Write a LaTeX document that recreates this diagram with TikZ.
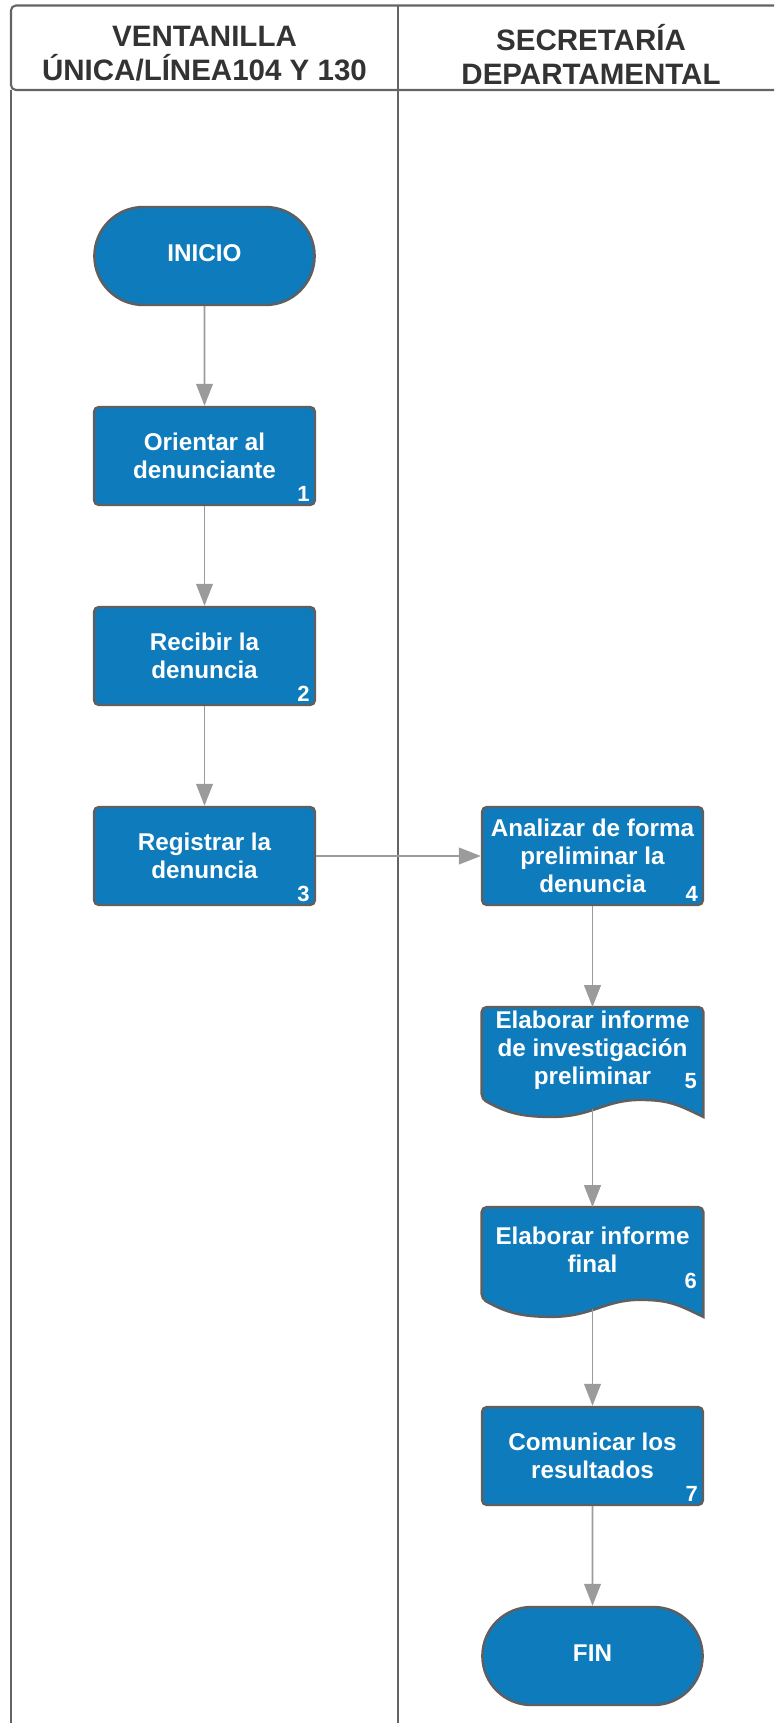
\documentclass[tikz,border=0pt]{standalone}
\usepackage{fontspec}
\setmainfont{Liberation Sans}
\usetikzlibrary{arrows.meta,shapes.misc,calc,backgrounds}
\definecolor{boxblue}{RGB}{14,123,189}
\definecolor{boxline}{RGB}{95,95,95}
\definecolor{laneline}{RGB}{100,100,100}
\definecolor{flowgray}{RGB}{155,155,155}
\definecolor{headtext}{RGB}{51,51,51}
\begin{document}
\begin{tikzpicture}[x=0.02cm,y=-0.02cm,
box font/.style={font=\fontsize{13.8}{15.8}\selectfont\bfseries},
step node/.style={rectangle,rounded corners=2.8pt,draw=boxline,line width=1.4pt,fill=boxblue,text=white,box font,align=center,minimum width=4.42cm,minimum height=1.96cm,inner sep=2pt},
term node/.style={rounded rectangle,draw=boxline,line width=1.4pt,fill=boxblue,text=white,box font,text depth=3.5pt,minimum width=4.64cm,minimum height=1.96cm},
doc node/.style={rectangle,text=white,box font,align=center,minimum width=4.42cm,minimum height=1.7cm,inner sep=2pt},
doc shape/.style={draw=boxline,line width=1.4pt,fill=boxblue},
num label/.style={anchor=south east,inner xsep=3.5pt,inner ysep=2.3pt,text=white,font=\fontsize{12.5}{12.5}\selectfont\bfseries},
head text/.style={text=headtext,align=center,font=\fontsize{16.8}{19.3}\selectfont\bfseries},
flow/.style={draw=flowgray,line width=1.1pt,-{Triangle[width=9.5pt,length=12.5pt]}},
lane/.style={draw=laneline,line width=1.2pt}]
\useasboundingbox (0,0) rectangle (774,1723);
\clip (0,0) rectangle (774,1723);
% lanes
\draw[lane,rounded corners=2.8pt] (11,5.5) rectangle (784,90);
\draw[lane] (11,90) -- (11,1740);
\draw[lane] (398,5.5) -- (398,1740);
\node[head text] (laneA) at (204.5,54) {VENTANILLA\\ÚNICA/LÍNEA104 Y 130};
\node[head text] (laneB) at (591,54) {SECRETARÍA\\DEPARTAMENTAL};
% steps
\node[term node] (inicio) at (204.5,256) {INICIO};
\node[step node,label={[num label]south east:1}] (orientar) at (204.5,456) {Orientar al\\denunciante};
\node[step node,label={[num label]south east:2}] (recibir) at (204.5,656) {Recibir la\\denuncia};
\node[step node,label={[num label]south east:3}] (registrar) at (204.5,856) {Registrar la\\denuncia};
\node[step node,label={[num label]south east:4}] (analizar) at (592.5,856) {Analizar de forma\\preliminar la\\denuncia};
\node[doc node,label={[num label]south east:5}] (informepre) at (592.5,1050) {Elaborar informe\\de investigación\\preliminar};
\node[doc node,label={[num label]south east:6}] (informefin) at (592.5,1250) {Elaborar informe\\final};
\node[step node,label={[num label]south east:7}] (comunicar) at (592.5,1456) {Comunicar los\\resultados};
\node[term node] (fin) at (592.5,1656) {FIN};
\begin{scope}[on background layer]
\foreach \n in {informepre,informefin}{
\filldraw[doc shape] ($(\n.south east)+(0,24)$) [rounded corners=2.8pt] -- (\n.north east) -- (\n.north west) -- ($(\n.south west)+(0,6)$) [sharp corners]
  .. controls +(25,14) and +(-30,0) .. ($(\n.south west)+(70,24)$)
  .. controls +(40,0) and +(-35,0) .. ($(\n.south west)+(158,7)$)
  .. controls +(30,0) and +(-25,-12) .. ($(\n.south east)+(0,24)$) -- cycle;
\coordinate (\n-w) at ($(\n.south)+(0,16)$);
}
\end{scope}
% connectors
\draw[flow] (inicio) -- (orientar);
\draw[flow] (orientar) -- (recibir);
\draw[flow] (recibir) -- (registrar);
\draw[flow] (registrar) -- (analizar);
\draw[flow] (analizar) -- (informepre);
\draw[flow] (informepre-w) -- (informefin);
\draw[flow] (informefin-w) -- (comunicar);
\draw[flow] (comunicar) -- (fin);
\end{tikzpicture}
\end{document}
